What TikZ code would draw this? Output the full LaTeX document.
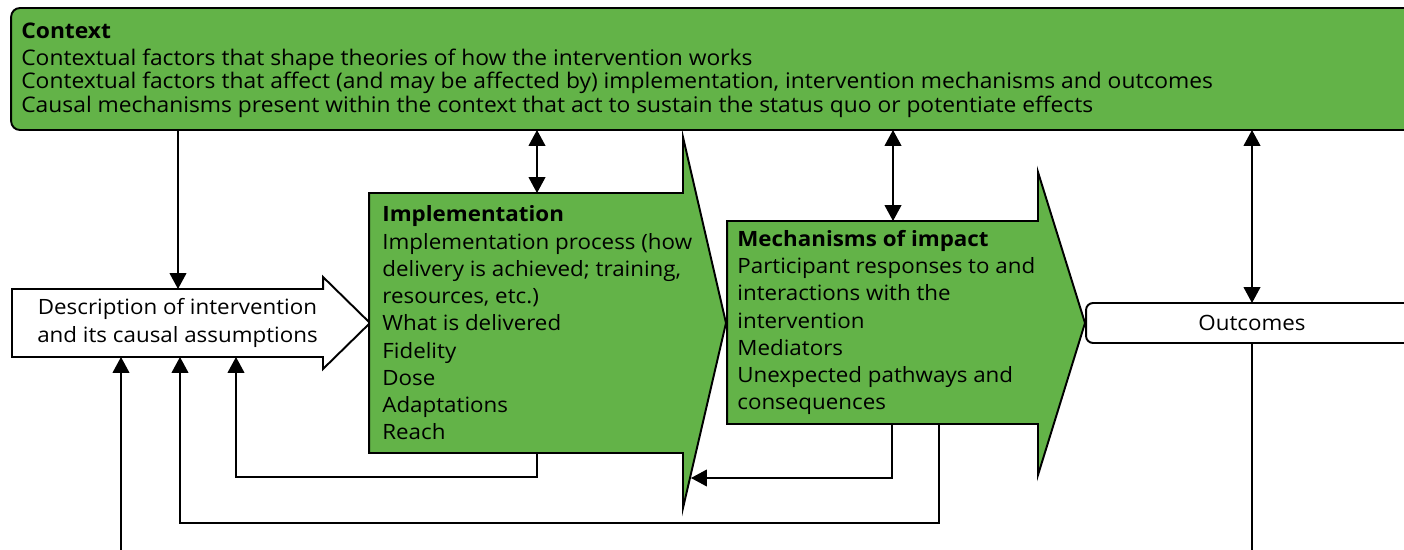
\documentclass[tikz,border=0pt]{standalone}
\usepackage{fontspec}
\setmainfont{Open Sans}[FakeStretch=1.06]
\usetikzlibrary{arrows.meta,positioning,backgrounds}
\definecolor{ctxgreen}{RGB}{99,179,72}
\newcommand{\ctxsize}{\fontsize{12.25}{13.4}\selectfont}
\newcommand{\boxsize}{\fontsize{12}{15.5}\selectfont}
\tikzset{
	body/.style={inner sep=0pt, outer sep=0pt},
	greenshape/.style={draw, line width=1.1pt, fill=ctxgreen},
	whiteshape/.style={draw, line width=1.1pt, fill=white},
	boxtext/.style={inner sep=0pt, align=left, font=\boxsize},
	link/.style={line width=0.8pt, -{Triangle[width=9.5pt,length=9pt]}},
	both/.style={line width=0.8pt, {Triangle[width=9.5pt,length=9pt]}-{Triangle[width=9.5pt,length=9pt]}},
	plain/.style={line width=0.8pt}
}

\begin{document}
\begin{tikzpicture}[x=0.02cm,y=-0.02cm]
	\clip (0,0) rectangle (1404,550);
	
	\node[body, draw, line width=1.1pt, fill=ctxgreen, rounded corners=5pt, minimum width=28.18cm, minimum height=2.44cm] (context) at (715.5,69) {};
	\node[anchor=north west, inner sep=0pt, align=left, font=\ctxsize] (ctxtext) at (21,23)
		{\textbf{Context}\\[1.5pt]
		Contextual factors that shape theories of how the intervention works\\
		Contextual factors that affect (and may be affected by) implementation, intervention mechanisms and outcomes\\
		Causal mechanisms present within the context that act to sustain the status quo or potentiate effects};
	
	\node[body, minimum width=6.62cm, minimum height=1.36cm, align=center, font=\boxsize] (desc) at (177.5,323)
		{Description of intervention\\and its causal assumptions};
	\node[body, minimum width=6.28cm, minimum height=5.2cm] (impl) at (526,323) {};
	\node[body, minimum width=6.22cm, minimum height=4.06cm] (mech) at (882.5,322.5) {};
	\node[body, draw, line width=1.1pt, fill=white, rounded corners=4pt, minimum width=6.64cm, minimum height=0.8cm, font=\boxsize] (outcomes) at (1252,323) {Outcomes};
	
	\begin{scope}[on background layer]
		\draw[whiteshape] (desc.north west) -- ++(311,0) -- ++(0,-12) -- (370,323) -- ++(-47,46) -- ++(0,-12) -- (desc.south west) -- cycle;
		\draw[greenshape] (impl.north west) -- (impl.north east) -- ++(0,-56) -- (726,323) -- (683,508) -- (impl.south east) -- (impl.south west) -- cycle;
		\draw[greenshape] (mech.north west) -- (mech.north east) -- ++(0,-49) -- (1085,323) -- (1038,475) -- (mech.south east) -- (mech.south west) -- cycle;
	\end{scope}
	
	\node[boxtext, right=0.26cm of impl.west] (impltext)
		{\textbf{Implementation}\\
		Implementation process (how\\
		delivery is achieved; training,\\
		resources, etc.)\\
		What is delivered\\
		Fidelity\\
		Dose\\
		Adaptations\\
		Reach};
	\node[boxtext, right=0.2cm of mech.west] (mechtext)
		{\textbf{Mechanisms of impact}\\
		Participant responses to and\\
		interactions with the\\
		intervention\\
		Mediators\\
		Unexpected pathways and\\
		consequences};
	
	\draw[link] (context.south -| 178,0) -- (desc.north -| 178,0);
	\foreach \x/\t in {537/impl,893/mech,1252/outcomes}
		\draw[both] (context.south -| \x,0) -- (\t.north -| \x,0);
	
	\draw[link] (impl.south -| 537,0) |- (236,477) -- (desc.south -| 236,0);
	\coordinate (implfoot) at (691,478);
	\draw[link] (mech.south -| 892,0) |- (implfoot);
	\draw[link] (mech.south -| 939,0) |- (180,523) -- (desc.south -| 180,0);
	
	\coordinate (inflow) at (121,560);
	\draw[link] (inflow) -- (desc.south -| inflow);
	\coordinate (outflow) at (1252,560);
	\draw[plain] (outcomes.south) -- (outflow);
\end{tikzpicture}
\end{document}
